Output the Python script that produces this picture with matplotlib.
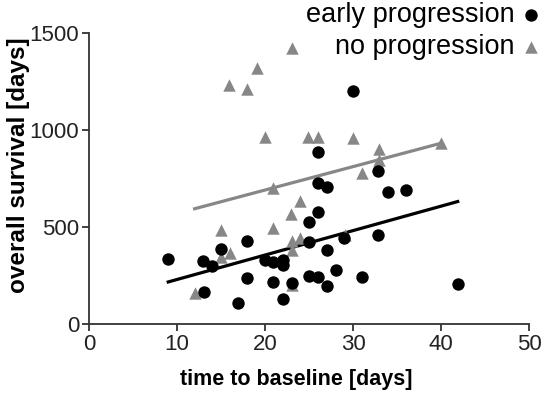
import numpy as np
import matplotlib
matplotlib.use("Agg")
import matplotlib.pyplot as plt

plt.rcParams['font.family'] = ['Liberation Sans', 'DejaVu Sans']

# early progression (black circles)
early_x = [9.0, 13.0, 14.0, 13.1, 15.0, 18.0, 18.0, 16.9, 20.0, 20.9, 22.0, 22.0,
           20.9, 23.1, 22.0, 25.0, 25.0, 25.0, 26.0, 26.0, 27.0, 26.0, 26.0, 27.0,
           27.0, 28.1, 29.0, 30.0, 31.0, 32.8, 32.8, 34.0, 36.0, 41.9]
early_y = [335, 325, 299, 165, 386, 427, 237, 108, 329, 319, 329, 304,
           216, 211, 129, 525, 422, 247, 885, 726, 705, 576, 242, 381,
           196, 278, 443, 1199, 242, 787, 458, 679, 690, 206]

# no progression (grey triangles)
nopro_x = [12.0, 15.0, 15.0, 16.0, 15.9, 18.0, 19.1, 20.0, 20.9, 20.9, 23.1, 23.0,
           24.0, 23.1, 24.0, 23.1, 23.1, 24.9, 26.0, 29.1, 30.0, 31.0, 33.0, 33.0, 40.0]
nopro_y = [160, 484, 345, 365, 1230, 1209, 1318, 962, 700, 494, 1420, 566,
           633, 427, 443, 381, 200, 962, 962, 460, 957, 777, 900, 845, 931]

# Regressionsgeraden: Steigung, Achsenabschnitt
early_fit = (12.6, 103)
nopro_fit = (12.06, 449)

grey = '#878787'

fig = plt.figure(figsize=(5.44, 3.96), dpi=100)
ax = fig.add_axes([0.1636, 0.182, 0.8088, 0.7348])

# Linien
xe = np.array([min(early_x), max(early_x)])
ax.plot(xe, early_fit[0] * xe + early_fit[1], color='black', lw=2.3, zorder=2)
xn = np.array([min(nopro_x), max(nopro_x)])
ax.plot(xn, nopro_fit[0] * xn + nopro_fit[1], color=grey, lw=2.3, zorder=2)

# Punkte
ax.scatter(nopro_x, nopro_y, marker='^', s=80, color=grey, linewidths=0, zorder=3,
           label='no progression')
ax.scatter(early_x, early_y, marker='o', s=80, color='black', linewidths=0, zorder=4,
           label='early progression')

ax.set_xlim(0, 50)
ax.set_ylim(0, 1500)
ax.set_xticks([0, 10, 20, 30, 40, 50])
ax.set_yticks([0, 500, 1000, 1500])

for s in ['top', 'right']:
    ax.spines[s].set_visible(False)
for s in ['left', 'bottom']:
    ax.spines[s].set_color('#333333')
    ax.spines[s].set_linewidth(1.3)
ax.tick_params(direction='out', length=5, width=1.3, color='#333333',
               labelsize=16, labelcolor='#222222', pad=2)

ax.set_xlabel('time to baseline [days]', fontsize=15.5, fontweight='bold')
ax.set_ylabel('overall survival [days]', fontsize=17.5, fontweight='bold')
ax.xaxis.set_label_coords(0.47, -0.155)
ax.yaxis.set_label_coords(-0.135, 0.545)

h, l = ax.get_legend_handles_labels()
fig.legend(h[::-1], l[::-1], loc='upper right', bbox_to_anchor=(1.025, 1.03),
           frameon=False, markerfirst=False, fontsize=19.5, handletextpad=0.1,
           handlelength=1.0, labelspacing=0.22, borderaxespad=0.1, scatterpoints=1)

fig.savefig('out.png', dpi=100)
